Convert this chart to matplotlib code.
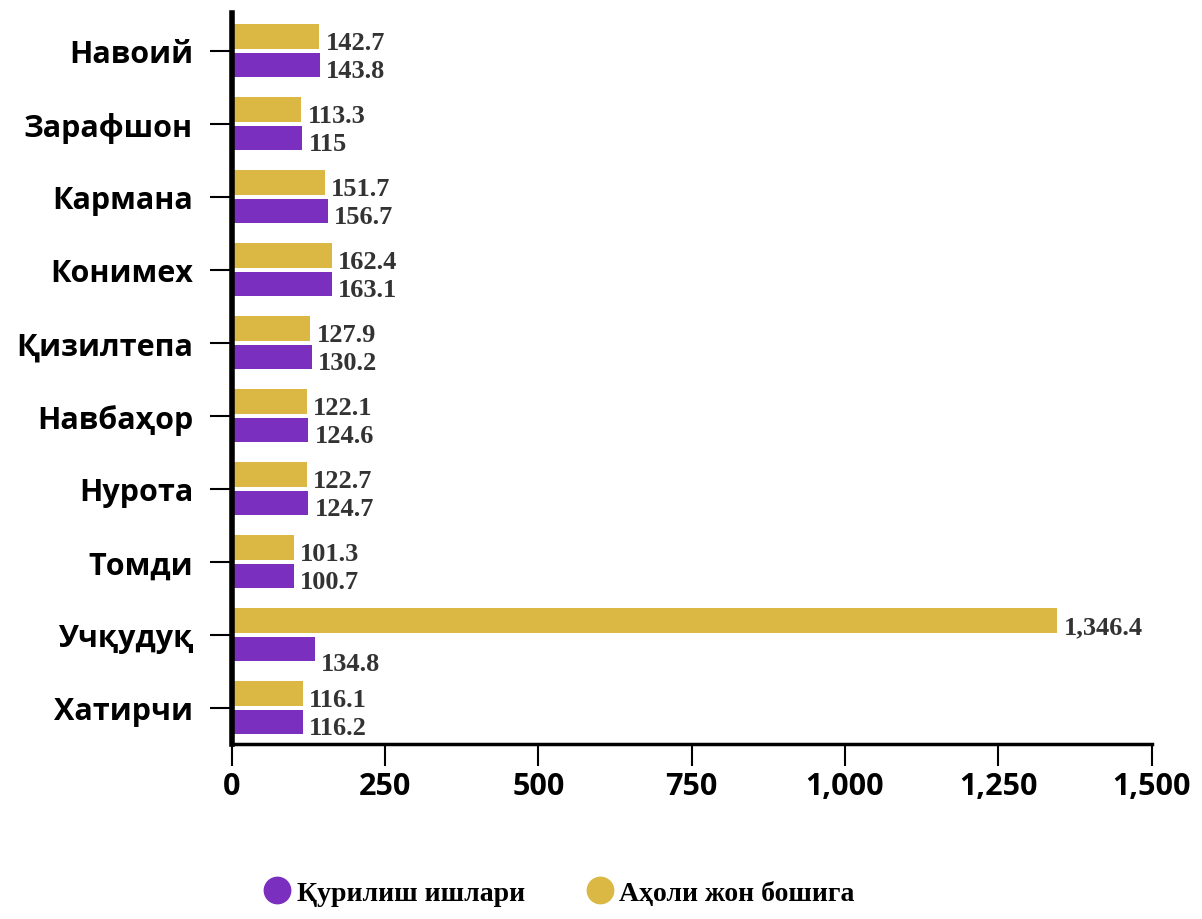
import numpy as np
import matplotlib.pyplot as plt
from matplotlib.lines import Line2D

districts = ['Навоий', 'Зарафшон', 'Кармана', 'Конимех', 'Қизилтепа',
             'Навбаҳор', 'Нурота', 'Томди', 'Учқудуқ', 'Хатирчи']
population = [142.7, 113.3, 151.7, 162.4, 127.9, 122.1, 122.7, 101.3, 1346.4, 116.1]
construction = [143.8, 115, 156.7, 163.1, 130.2, 124.6, 124.7, 100.7, 134.8, 116.2]
pop_labels = ['142.7', '113.3', '151.7', '162.4', '127.9', '122.1', '122.7', '101.3', '1,346.4', '116.1']
con_labels = ['143.8', '115', '156.7', '163.1', '130.2', '124.6', '124.7', '100.7', '134.8', '116.2']
xticks = [0, 250, 500, 750, 1000, 1250, 1500]
xtick_labels = ['0', '250', '500', '750', '1,000', '1,250', '1,500']

purple = '#7B2FBE'
yellow = '#DAB843'
label_color = '#333333'

fig = plt.figure(figsize=(12.02, 9.2), dpi=100)
ax = fig.add_axes([0.193, 0.19, 0.765, 0.795])

y = np.arange(len(districts))
h = 0.34
gap = 0.05
ax.barh(y - h / 2 - gap / 2, population, height=h, color=yellow)
ax.barh(y + h / 2 + gap / 2, construction, height=h, color=purple)

for i in range(len(districts)):
    ax.text(population[i] + 10, y[i] - h / 2 + 0.06, pop_labels[i], va='center', ha='left',
            fontsize=19, fontweight='bold', color=label_color, family='Liberation Serif')
    # the big yellow bar pushes its purple neighbour's label a little lower
    off = 0.12 if population[i] > construction[i] * 2 else 0.0
    ax.text(construction[i] + 10, y[i] + h / 2 + 0.1 + off, con_labels[i], va='center', ha='left',
            fontsize=19, fontweight='bold', color=label_color, family='Liberation Serif')

ax.set_xlim(0, 1500)
ax.set_ylim(9.5, -0.52)
ax.set_yticks(y)
ax.set_yticklabels(districts)
ax.set_xticks(xticks)
ax.set_xticklabels(xtick_labels)
for lbl in ax.get_yticklabels() + ax.get_xticklabels():
    lbl.set_fontproperties({'family': 'Open Sans', 'weight': 'bold', 'size': 22})
ax.tick_params(axis='y', length=16, width=1.5, pad=12)
ax.tick_params(axis='x', length=16, width=1.5, pad=3)

ax.spines['top'].set_visible(False)
ax.spines['right'].set_visible(False)
ax.spines['left'].set_linewidth(4)
ax.spines['bottom'].set_linewidth(2.5)

handles = [Line2D([0], [0], marker='o', color='none', markerfacecolor=purple, markeredgecolor=purple, markersize=19),
           Line2D([0], [0], marker='o', color='none', markerfacecolor=yellow, markeredgecolor=yellow, markersize=19)]
fig.legend(handles, ['Қурилиш ишлари', 'Аҳоли жон бошига'], loc='center', bbox_to_anchor=(0.465, 0.028),
           ncol=2, frameon=False, handlelength=1.0, handletextpad=0.2, columnspacing=2.2,
           prop={'family': 'Liberation Serif', 'weight': 'bold', 'size': 20})

fig.savefig('out.png', dpi=100, facecolor='white')
